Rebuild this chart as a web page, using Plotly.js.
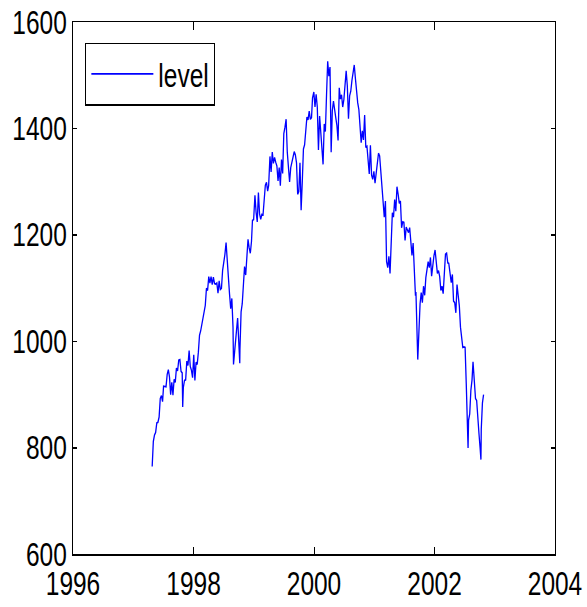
<!DOCTYPE html>
<html>
<head>
<meta charset="utf-8">
<script src="https://cdn.plot.ly/plotly-3.0.1.min.js"></script>
<style>
html,body{margin:0;padding:0;background:#fff;overflow:hidden;}
#wrap{width:587px;height:607px;overflow:hidden;}
#chart{width:587px;height:460px;transform:scaleY(1.3196);transform-origin:0 0;}
</style>
</head>
<body>
<div id="wrap"><div id="chart"></div></div>
<script>
var seriesName = "level";
var dates = [
"1997-04-25","1997-05-02","1997-05-09","1997-05-16","1997-05-23","1997-05-30","1997-06-06","1997-06-13","1997-06-20","1997-06-27",
"1997-07-03","1997-07-11","1997-07-18","1997-07-25","1997-08-01","1997-08-08","1997-08-15","1997-08-22","1997-08-29","1997-09-05",
"1997-09-12","1997-09-19","1997-09-26","1997-10-03","1997-10-10","1997-10-17","1997-10-24","1997-10-27","1997-10-31","1997-11-07",
"1997-11-14","1997-11-21","1997-11-28","1997-12-05","1997-12-12","1997-12-19","1997-12-26","1998-01-02","1998-01-09","1998-01-16",
"1998-01-23","1998-01-30","1998-02-06","1998-02-13","1998-02-20","1998-02-27","1998-03-06","1998-03-13","1998-03-20","1998-03-27",
"1998-04-03","1998-04-10","1998-04-17","1998-04-24","1998-05-01","1998-05-08","1998-05-15","1998-05-22","1998-05-29","1998-06-05",
"1998-06-12","1998-06-19","1998-06-26","1998-07-03","1998-07-10","1998-07-17","1998-07-24","1998-07-31","1998-08-07","1998-08-14",
"1998-08-21","1998-08-28","1998-08-31","1998-09-04","1998-09-11","1998-09-18","1998-09-25","1998-10-02","1998-10-08","1998-10-09",
"1998-10-16","1998-10-23","1998-10-30","1998-11-06","1998-11-13","1998-11-20","1998-11-27","1998-12-04","1998-12-11","1998-12-18",
"1998-12-24","1998-12-31","1999-01-08","1999-01-15","1999-01-22","1999-01-29","1999-02-05","1999-02-12","1999-02-19","1999-02-26",
"1999-03-05","1999-03-12","1999-03-19","1999-03-26","1999-04-01","1999-04-09","1999-04-16","1999-04-23","1999-04-30","1999-05-07",
"1999-05-14","1999-05-21","1999-05-28","1999-06-04","1999-06-11","1999-06-18","1999-06-25","1999-07-02","1999-07-09","1999-07-16",
"1999-07-23","1999-07-30","1999-08-06","1999-08-13","1999-08-20","1999-08-27","1999-09-03","1999-09-10","1999-09-17","1999-09-24",
"1999-10-01","1999-10-08","1999-10-15","1999-10-22","1999-10-29","1999-11-05","1999-11-12","1999-11-19","1999-11-26","1999-12-03",
"1999-12-10","1999-12-17","1999-12-23","1999-12-31","2000-01-07","2000-01-14","2000-01-21","2000-01-28","2000-02-04","2000-02-11",
"2000-02-18","2000-02-25","2000-03-03","2000-03-10","2000-03-17","2000-03-24","2000-03-31","2000-04-07","2000-04-14","2000-04-21",
"2000-04-28","2000-05-05","2000-05-12","2000-05-19","2000-05-26","2000-06-02","2000-06-09","2000-06-16","2000-06-23","2000-06-30",
"2000-07-07","2000-07-14","2000-07-21","2000-07-28","2000-08-04","2000-08-11","2000-08-18","2000-08-25","2000-09-01","2000-09-08",
"2000-09-15","2000-09-22","2000-09-29","2000-10-06","2000-10-13","2000-10-20","2000-10-27","2000-11-03","2000-11-10","2000-11-17",
"2000-11-24","2000-12-01","2000-12-08","2000-12-15","2000-12-22","2000-12-29","2001-01-05","2001-01-12","2001-01-19","2001-01-26",
"2001-02-02","2001-02-09","2001-02-16","2001-02-23","2001-03-02","2001-03-09","2001-03-16","2001-03-23","2001-03-30","2001-04-06",
"2001-04-13","2001-04-20","2001-04-27","2001-05-04","2001-05-11","2001-05-18","2001-05-25","2001-06-01","2001-06-08","2001-06-15",
"2001-06-22","2001-06-29","2001-07-06","2001-07-13","2001-07-20","2001-07-27","2001-08-03","2001-08-10","2001-08-17","2001-08-24",
"2001-08-31","2001-09-07","2001-09-10","2001-09-21","2001-09-28","2001-10-05","2001-10-12","2001-10-19","2001-10-26","2001-11-02",
"2001-11-09","2001-11-16","2001-11-23","2001-11-30","2001-12-07","2001-12-14","2001-12-21","2001-12-28","2002-01-04","2002-01-11",
"2002-01-18","2002-01-25","2002-02-01","2002-02-08","2002-02-15","2002-02-22","2002-03-01","2002-03-08","2002-03-15","2002-03-22",
"2002-03-28","2002-04-05","2002-04-12","2002-04-19","2002-04-26","2002-05-03","2002-05-10","2002-05-17","2002-05-24","2002-05-31",
"2002-06-07","2002-06-14","2002-06-21","2002-06-28","2002-07-05","2002-07-12","2002-07-19","2002-07-23","2002-07-26","2002-08-02",
"2002-08-09","2002-08-16","2002-08-22","2002-08-30","2002-09-06","2002-09-13","2002-09-20","2002-09-27","2002-10-04","2002-10-09",
"2002-10-11","2002-10-18","2002-10-25"
];
var level = [
765,812,824,829,847,848,858,893,898,887,
916,916,915,938,947,933,900,923,899,929,
923,950,945,965,966,944,941,877,914,927,
928,963,955,983,953,946,932,975,927,961,
957,980,1012,1020,1034,1049,1055,1068,1100,1096,
1122,1110,1122,1107,1121,1109,1108,1110,1091,1114,
1098,1100,1134,1146,1164,1186,1141,1121,1089,1062,
1081,1027,957,973,1009,1020,1044,1003,959,984,
1056,1071,1098,1141,1125,1163,1192,1176,1166,1188,
1228,1229,1275,1243,1225,1280,1240,1230,1239,1238,
1275,1294,1299,1283,1293,1348,1319,1356,1335,1346,
1337,1330,1302,1327,1293,1342,1316,1391,1403,1418,
1356,1329,1300,1327,1336,1348,1357,1351,1336,1277,
1282,1336,1247,1301,1362,1370,1397,1422,1417,1433,
1418,1421,1458,1469,1441,1465,1441,1360,1424,1387,
1346,1333,1409,1395,1464,1527,1499,1516,1356,1434,
1452,1432,1421,1406,1378,1477,1456,1464,1441,1455,
1478,1509,1481,1419,1462,1471,1491,1506,1520,1495,
1465,1449,1436,1408,1374,1396,1379,1426,1365,1367,
1341,1315,1369,1313,1305,1320,1298,1318,1342,1354,
1349,1315,1301,1246,1234,1264,1150,1139,1160,1128,
1183,1242,1234,1267,1245,1291,1277,1260,1264,1214,
1225,1224,1190,1215,1210,1205,1214,1190,1162,1185,
1134,1086,1093,966,1041,1071,1092,1073,1104,1087,
1120,1139,1150,1139,1158,1123,1144,1161,1172,1146,
1128,1133,1122,1096,1104,1090,1132,1164,1166,1148,
1147,1122,1111,1126,1076,1073,1054,1107,1083,1067,
1027,1007,989,990,989,921,847,800,852,864,
908,928,962,916,893,889,846,827,800,778,
835,884,900
];
var xTickVals = ["1996-01-01","1998-01-01","2000-01-01","2002-01-01","2004-01-01"];
var xTickText = ["1996","1998","2000","2002","2004"];
var yTickVals = [600,800,1000,1200,1400,1600];

var fontFamily = "'Liberation Sans', Arial, Helvetica, sans-serif";
var tickFont = {family: fontFamily, size: 24.5, color: "#000"};

var trace = {
  x: dates, y: level, type: "scatter", mode: "lines", name: seriesName,
  line: {color: "#0000ff", width: 1.3}
};

var layout = {
  width: 587, height: 460,
  margin: {l: 73, r: 32, t: 17, b: 40, pad: 0},
  paper_bgcolor: "#fff", plot_bgcolor: "#fff",
  showlegend: true,
  legend: {
    x: 0.025, y: 0.962, xanchor: "left", yanchor: "top",
    bgcolor: "#fff", bordercolor: "#000", borderwidth: 1.3,
    itemwidth: 62,
    font: {family: fontFamily, size: 24.5, color: "#000"}
  },
  xaxis: {
    type: "date", range: ["1996-01-01","2004-01-01"],
    tickmode: "array", tickvals: xTickVals, ticktext: xTickText,
    ticks: "inside", ticklen: 5.7, tickwidth: 1, tickcolor: "#000",
    showline: true, linecolor: "#000", linewidth: 1.3, mirror: "ticks",
    showgrid: false, zeroline: false, tickfont: tickFont,
    ticklabeloverflow: "allow"
  },
  yaxis: {
    range: [600, 1600],
    tickmode: "array", tickvals: yTickVals,
    ticks: "inside", ticklen: 4, tickwidth: 1, tickcolor: "#000",
    showline: true, linecolor: "#000", linewidth: 1.3, mirror: "ticks",
    showgrid: false, zeroline: false, tickfont: tickFont,
    ticklabeloverflow: "allow"
  }
};

Plotly.newPlot("chart", [trace], layout, {displayModeBar: false, staticPlot: true});
</script>
</body>
</html>
